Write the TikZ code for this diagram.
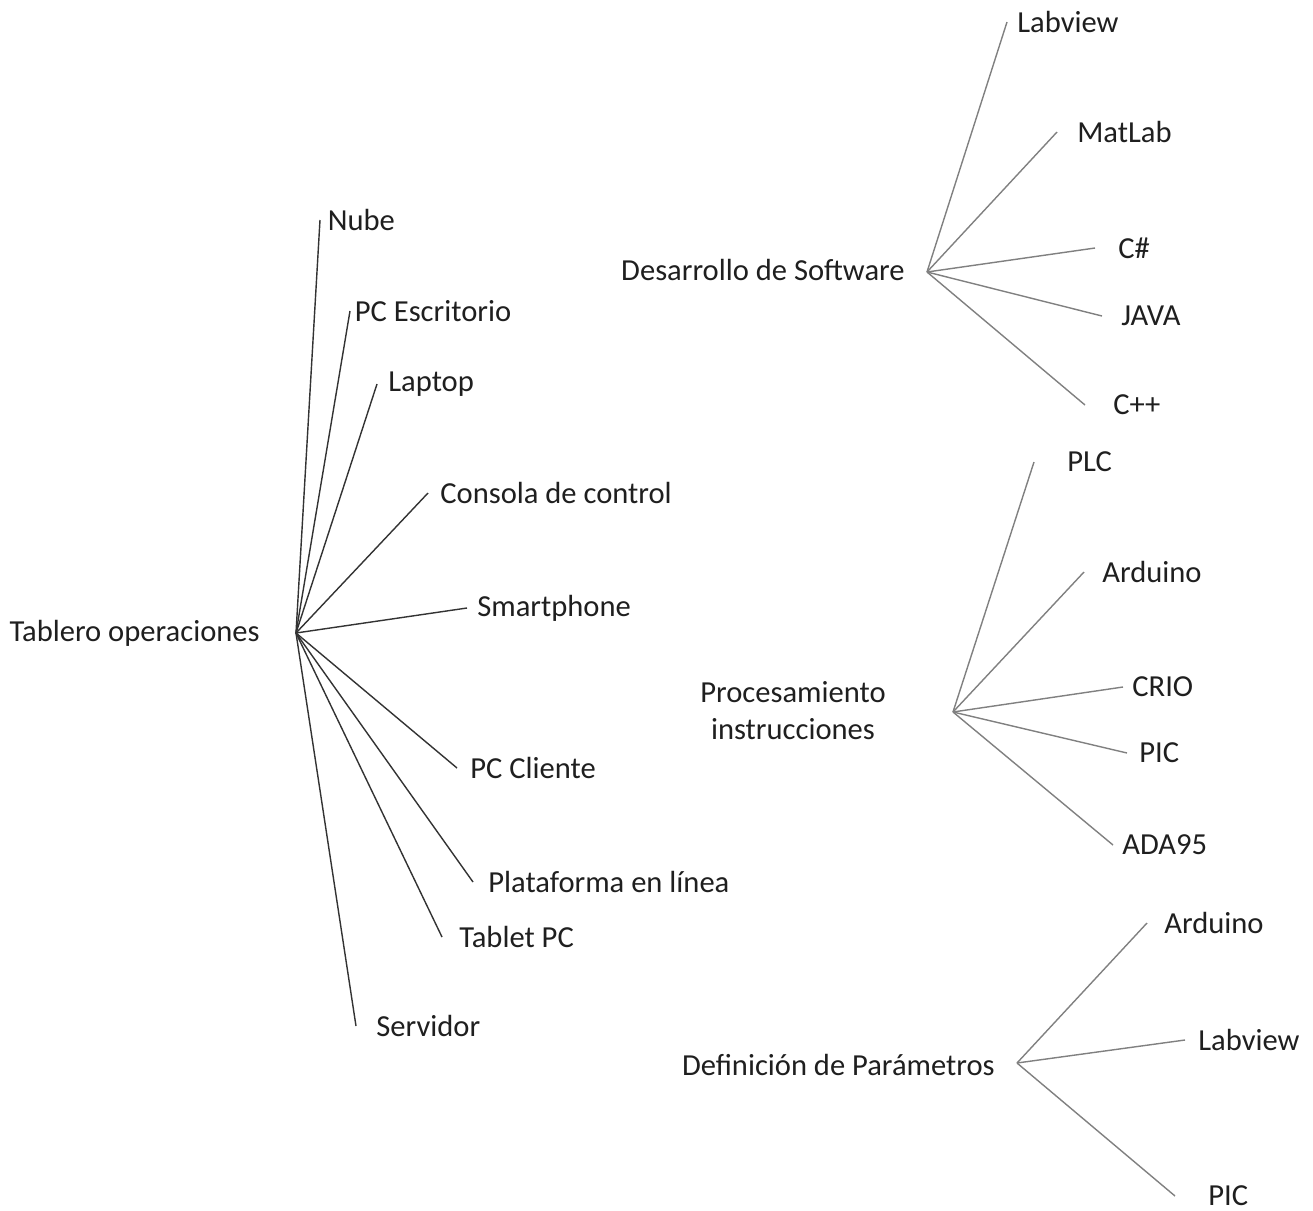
\documentclass[tikz,border=0pt]{standalone}
\usepackage{fontspec}
\setmainfont{Carlito}
\usepackage{xcolor}
\usepackage{tikz}

\tikzset{
  texto/.style={font=\fontsize{17.4}{21}\selectfont, text=black!88, inner xsep=0.1cm},
  hoja/.style={texto, anchor=west, inner xsep=#1},
  hoja/.default=0.2cm,
  rama/.style={black!80, line width=0.8pt},
  subrama/.style={gray, line width=0.8pt}
}

\begin{document}
\begin{tikzpicture}[x=0.02cm, y=-0.02cm]
    \useasboundingbox (0,0) rectangle (1313,1211);

    % Tablero operaciones
    \coordinate (tablero) at (296,633);
    \node[texto, anchor=east] (tableroTxt) at (265,633) {Tablero operaciones};
    \node[hoja=0.15cm] (nube) at (320,220) {Nube};
    \node[hoja=0.09cm] (pcEsc) at (350,311) {PC Escritorio};
    \node[hoja=0.22cm] (laptop) at (377,384) {Laptop};
    \node[hoja=0.24cm] (consola) at (428,493) {Consola de control};
    \node[hoja=0.2cm] (smart) at (467,608) {Smartphone};
    \node[hoja=0.26cm] (pcCli) at (457,768) {PC Cliente};
    \node[hoja=0.3cm] (plataforma) at (473,882) {Plataforma en línea};
    \node[hoja=0.34cm] (tablet) at (442,937) {Tablet PC};
    \node[hoja=0.4cm] (servidor) at (356,1026) {Servidor};
    \foreach \n in {nube,pcEsc,laptop,consola,smart,pcCli,plataforma,tablet,servidor}
        \draw[rama] (tablero) -- (\n.west);

    % Desarrollo de Software
    \coordinate (desarrollo) at (927,272);
    \node[texto, anchor=east] (desarrolloTxt) at (910,270) {Desarrollo de Software};
    \node[hoja=0.2cm] (labview) at (1007,22) {Labview};
    \node[hoja=0.4cm] (matlab) at (1057,132) {MatLab};
    \node[hoja=0.46cm] (csharp) at (1095,248) {C\#};
    \node[hoja=0.38cm] (java) at (1102,316) {JAVA};
    \node[hoja=0.56cm] (cpp) at (1085,405) {C++};
    \foreach \n in {labview,matlab,csharp,java,cpp}
        \draw[subrama] (desarrollo) -- (\n.west);

    % Procesamiento instrucciones
    \coordinate (procesamiento) at (953,712);
    \node[texto, align=center] (procesamientoTxt) at (793,711) {Procesamiento\\instrucciones};
    \node[hoja=0.66cm] (plc) at (1034,462) {PLC};
    \node[hoja=0.36cm] (arduino) at (1084,572) {Arduino};
    \node[hoja=0.18cm] (crio) at (1123,687) {CRIO};
    \node[hoja=0.24cm] (pic) at (1127,753) {PIC};
    \node[hoja=0.18cm] (ada) at (1113,845) {ADA95};
    \foreach \n in {plc,arduino,crio,pic,ada}
        \draw[subrama] (procesamiento) -- (\n.west);

    % Definicion de Parametros
    \coordinate (definicion) at (1017,1063);
    \node[texto, anchor=east] (definicionTxt) at (1000,1065) {Definición de Parámetros};
    \node[hoja=0.34cm] (arduinoB) at (1147,923) {Arduino};
    \node[hoja=0.26cm] (labviewB) at (1185,1040) {Labview};
    \node[hoja=0.66cm] (picB) at (1175,1196) {PIC};
    \foreach \n in {arduinoB,labviewB,picB}
        \draw[subrama] (definicion) -- (\n.west);
\end{tikzpicture}
\end{document}
